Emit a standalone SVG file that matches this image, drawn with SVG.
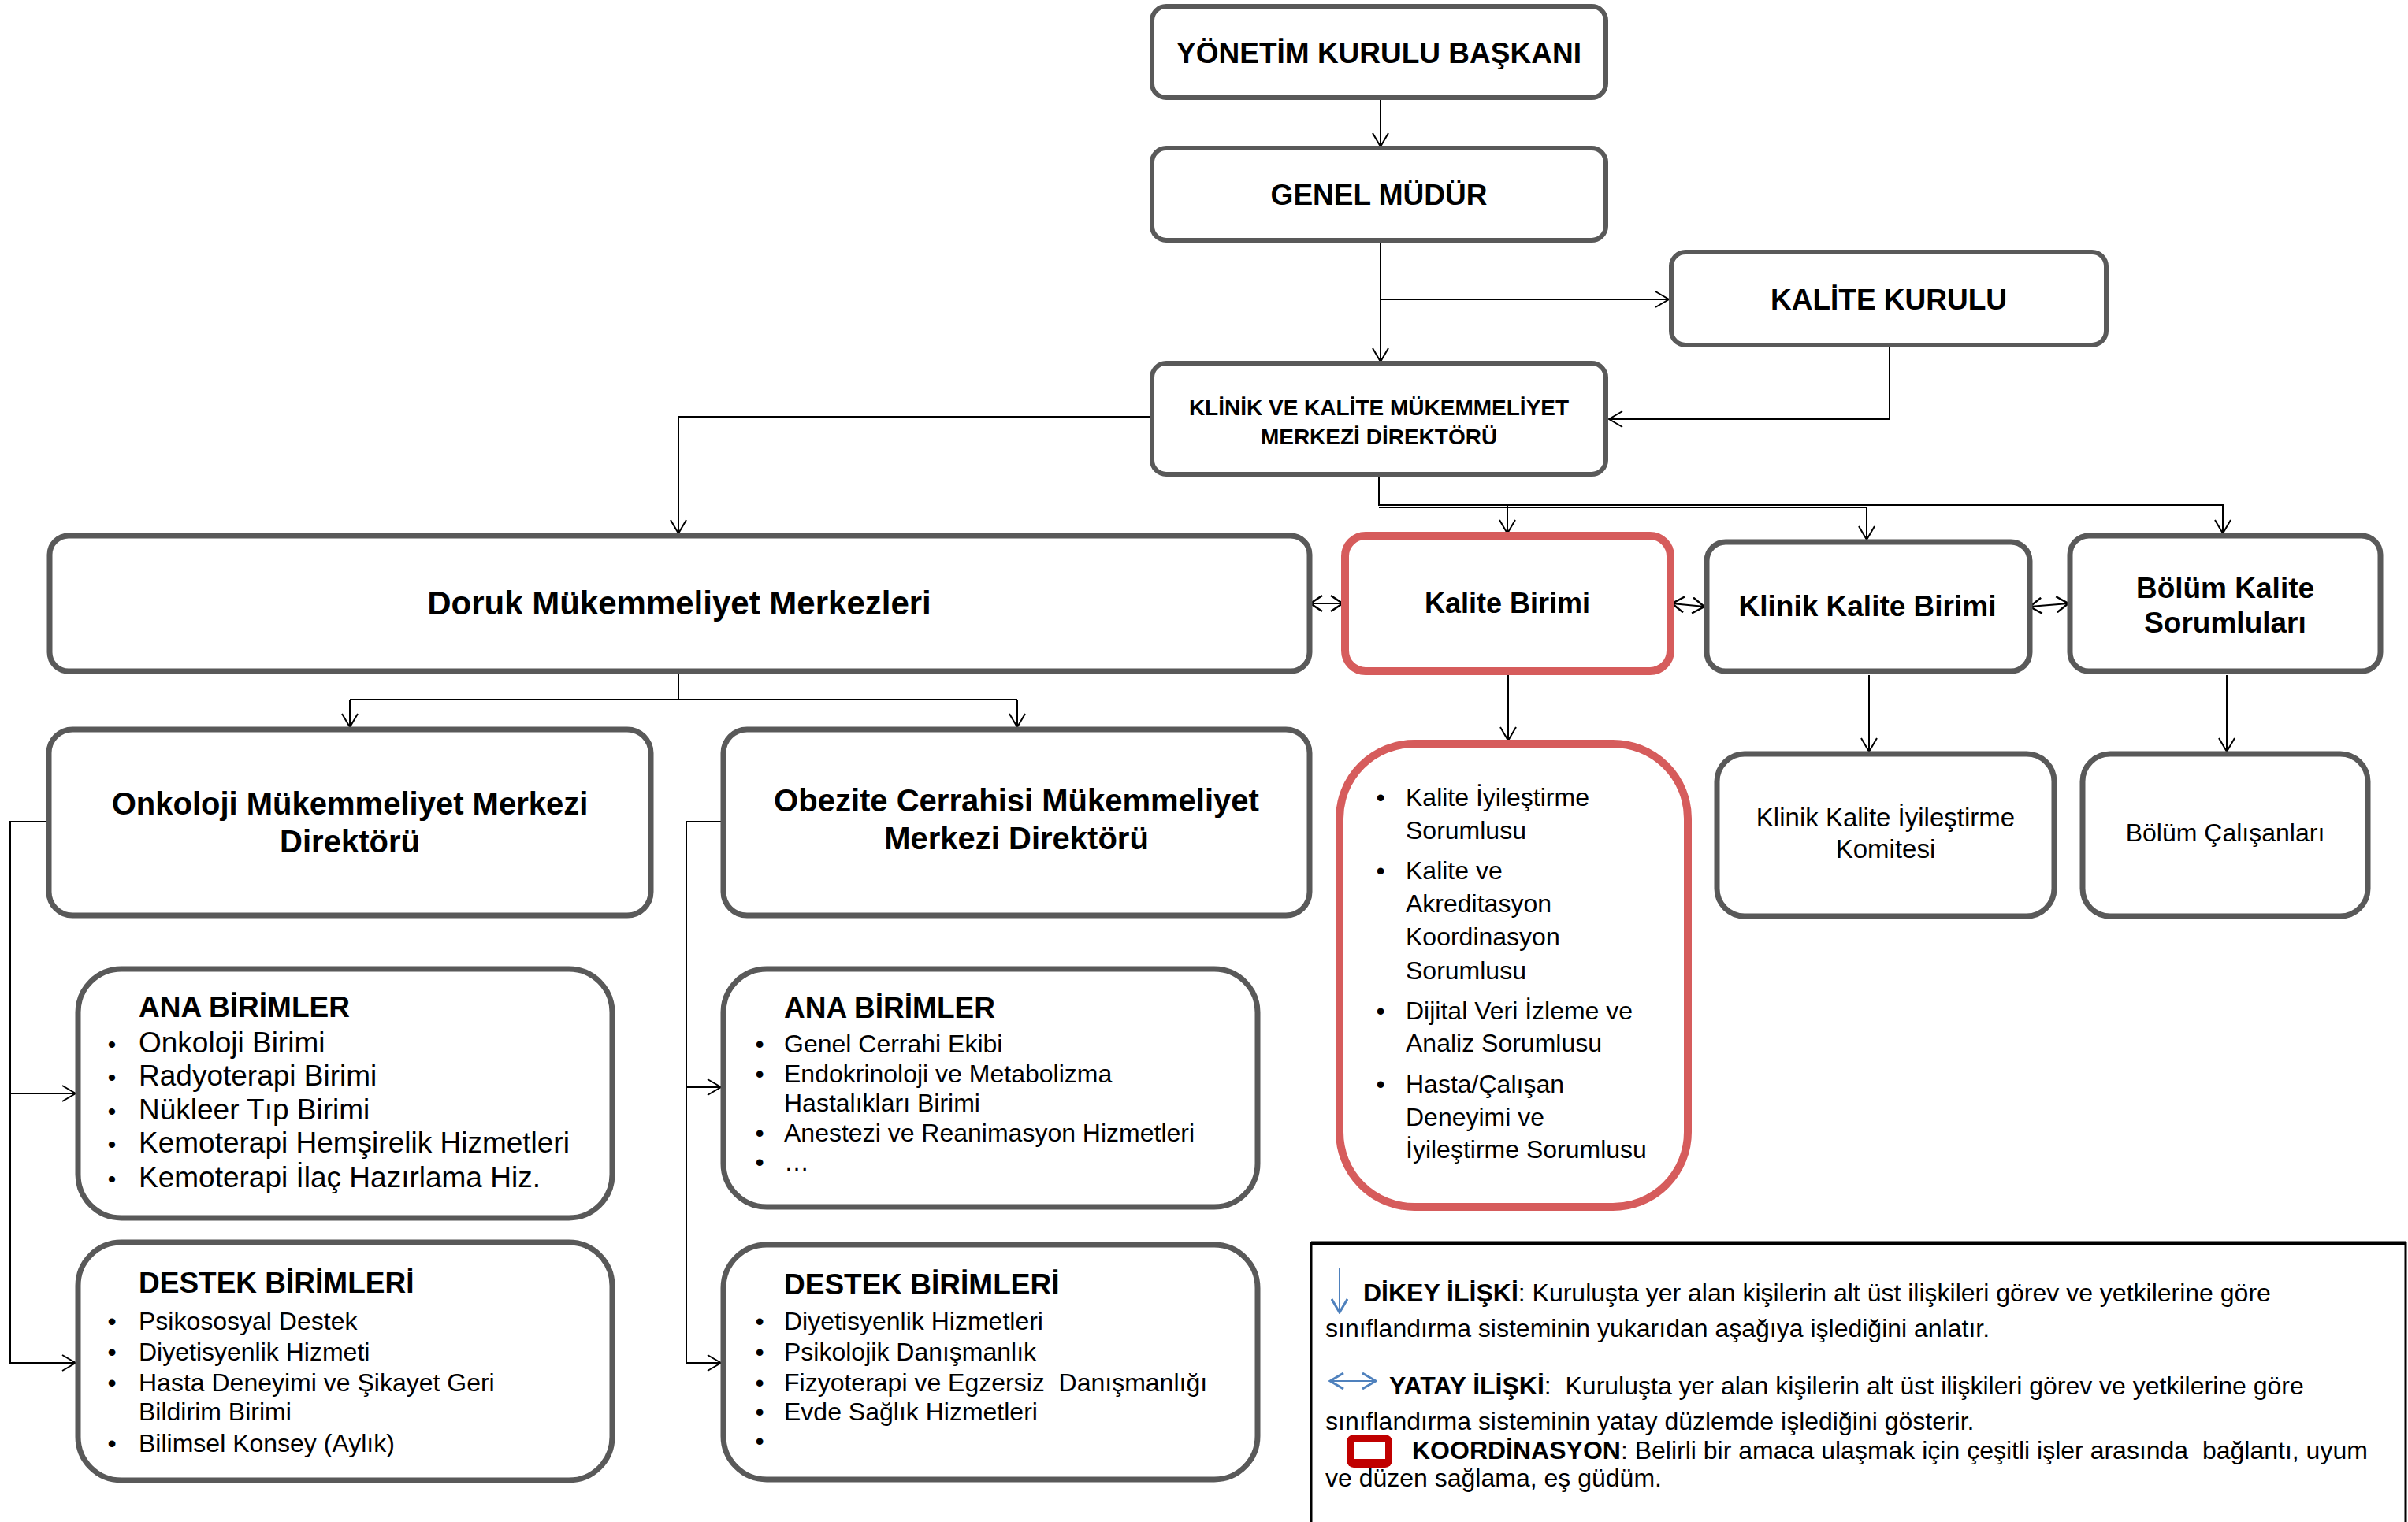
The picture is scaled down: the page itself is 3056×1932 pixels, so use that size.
<svg xmlns="http://www.w3.org/2000/svg" width="3056" height="1932" viewBox="0 0 3056 1932">
<style>
  text { font-family: "Liberation Sans", Arial, sans-serif; fill: #000; }
  .b { font-weight: bold; }
  .c { text-anchor: middle; }
  .box { fill: #fff; stroke: #595959; stroke-width: 7; }
  .top { fill: #fff; stroke: #595959; stroke-width: 6; }
  .red { fill: #fff; stroke: #d65c5c; stroke-width: 10; }
  .ln { fill: none; stroke: #000; stroke-width: 2; }
  .pre { white-space: pre; }
</style>
<defs>
  <marker id="arr" markerUnits="userSpaceOnUse" markerWidth="20" markerHeight="22" viewBox="0 0 20 22" refX="18" refY="11" orient="auto-start-reverse">
    <path d="M1,1 L18,11 L1,21" fill="none" stroke="#000" stroke-width="2"/>
  </marker>
  <marker id="dbl" markerUnits="userSpaceOnUse" markerWidth="18" markerHeight="22" viewBox="0 0 18 22" refX="16" refY="11" orient="auto-start-reverse">
    <path d="M1,1 L16,11 L1,21" fill="none" stroke="#000" stroke-width="2.5"/>
  </marker>
  <marker id="barr" markerUnits="userSpaceOnUse" markerWidth="20" markerHeight="22" viewBox="0 0 20 22" refX="18" refY="11" orient="auto-start-reverse">
    <path d="M1,1 L18,11 L1,21" fill="none" stroke="#4f81bd" stroke-width="3"/>
  </marker>
</defs>
<rect width="3056" height="1932" fill="#fff"/>

<g id="connectors">
  <path class="ln" d="M1752 126 V186" marker-end="url(#arr)"/>
  <path class="ln" d="M1752 306 V459" marker-end="url(#arr)"/>
  <path class="ln" d="M1752 380 H2118" marker-end="url(#arr)"/>
  <path class="ln" d="M2398 440 V532 H2042" marker-end="url(#arr)"/>
  <path class="ln" d="M1462 529 H861 V677" marker-end="url(#arr)"/>
  <path class="ln" d="M1750 603 V641 H2821 V677" marker-end="url(#arr)"/>
  <path class="ln" d="M1750 644 H2369 V685" marker-end="url(#arr)"/>
  <path class="ln" d="M1913 641 V677" marker-end="url(#arr)"/>
  <path class="ln" d="M861 855 V888"/>
  <path class="ln" d="M444 888 H1291"/>
  <path class="ln" d="M444 888 V923" marker-end="url(#arr)"/>
  <path class="ln" d="M1291 888 V923" marker-end="url(#arr)"/>
  <path class="ln" d="M59 1043 H13 V1730 H96" marker-end="url(#arr)"/>
  <path class="ln" d="M13 1388 H96" marker-end="url(#arr)"/>
  <path class="ln" d="M915 1043 H871 V1730 H915" marker-end="url(#arr)"/>
  <path class="ln" d="M871 1380 H915" marker-end="url(#arr)"/>
  <path class="ln" d="M1914 857 V940" marker-end="url(#arr)"/>
  <path class="ln" d="M2372 857 V954" marker-end="url(#arr)"/>
  <path class="ln" d="M2826 857 V954" marker-end="url(#arr)"/>
  <path class="ln" d="M1663 766 H1704" stroke-width="2.5" marker-start="url(#dbl)" marker-end="url(#dbl)"/>
  <path class="ln" d="M2122 766 L2163 770" stroke-width="2.5" marker-start="url(#dbl)" marker-end="url(#dbl)"/>
  <path class="ln" d="M2576 770 L2625 766" stroke-width="2.5" marker-start="url(#dbl)" marker-end="url(#dbl)"/>
</g>

<g id="n-yonetim">
  <rect class="top" x="1462" y="8" width="576" height="116" rx="18"/>
  <text class="b c" x="1750" y="80" font-size="37">YÖNETİM KURULU BAŞKANI</text>
</g>
<g id="n-genel">
  <rect class="top" x="1462" y="188" width="576" height="117" rx="18"/>
  <text class="b c" x="1750" y="260" font-size="37">GENEL MÜDÜR</text>
</g>
<g id="n-kalite-kurulu">
  <rect class="top" x="2121" y="320" width="552" height="118" rx="18"/>
  <text class="b c" x="2397" y="393" font-size="37">KALİTE KURULU</text>
</g>
<g id="n-klinik-direktor">
  <rect class="top" x="1462" y="461" width="576" height="141" rx="18"/>
  <text class="b c" x="1750" y="527" font-size="28">KLİNİK VE KALİTE MÜKEMMELİYET</text>
  <text class="b c" x="1750" y="564" font-size="28">MERKEZİ DİREKTÖRÜ</text>
</g>

<g id="n-doruk">
  <rect class="box" x="63" y="680" width="1599" height="172" rx="24"/>
  <text class="b c" x="862" y="780" font-size="42">Doruk Mükemmeliyet Merkezleri</text>
</g>
<g id="n-kalite-birimi">
  <rect class="red" x="1707" y="680" width="413" height="172" rx="26"/>
  <text class="b c" x="1913" y="778" font-size="36">Kalite Birimi</text>
</g>
<g id="n-klinik-kalite-birimi">
  <rect class="box" x="2166" y="688" width="410" height="164" rx="24"/>
  <text class="b c" x="2370" y="782" font-size="37">Klinik Kalite Birimi</text>
</g>
<g id="n-bolum-kalite">
  <rect class="box" x="2627" y="680" width="394" height="172" rx="24"/>
  <text class="b c" x="2824" y="759" font-size="37">Bölüm Kalite</text>
  <text class="b c" x="2824" y="803" font-size="37">Sorumluları</text>
</g>

<g id="n-onkoloji">
  <rect class="box" x="62" y="926" width="764" height="236" rx="30"/>
  <text class="b c" x="444" y="1034" font-size="40">Onkoloji Mükemmeliyet Merkezi</text>
  <text class="b c" x="444" y="1082" font-size="40">Direktörü</text>
</g>
<g id="n-obezite">
  <rect class="box" x="918" y="926" width="744" height="236" rx="30"/>
  <text class="b c" x="1290" y="1030" font-size="40">Obezite Cerrahisi Mükemmeliyet</text>
  <text class="b c" x="1290" y="1078" font-size="40">Merkezi Direktörü</text>
</g>

<g id="n-kalite-liste">
  <rect class="red" x="1700" y="944" width="442" height="588" rx="95"/>
  <g font-size="32">
    <text class="c" x="1752" y="1023">•</text>
    <text x="1784" y="1023">Kalite İyileştirme</text>
    <text x="1784" y="1065">Sorumlusu</text>
    <text class="c" x="1752" y="1116">•</text>
    <text x="1784" y="1116">Kalite ve</text>
    <text x="1784" y="1158">Akreditasyon</text>
    <text x="1784" y="1200">Koordinasyon</text>
    <text x="1784" y="1243">Sorumlusu</text>
    <text class="c" x="1752" y="1294">•</text>
    <text x="1784" y="1294">Dijital Veri İzleme ve</text>
    <text x="1784" y="1335">Analiz Sorumlusu</text>
    <text class="c" x="1752" y="1387">•</text>
    <text x="1784" y="1387">Hasta/Çalışan</text>
    <text x="1784" y="1429">Deneyimi ve</text>
    <text x="1784" y="1470">İyileştirme Sorumlusu</text>
  </g>
</g>
<g id="n-klinik-komite">
  <rect class="box" x="2179" y="957" width="428" height="206" rx="35"/>
  <text class="c" x="2393" y="1049" font-size="33">Klinik Kalite İyileştirme</text>
  <text class="c" x="2393" y="1089" font-size="33">Komitesi</text>
</g>
<g id="n-bolum-calisanlari">
  <rect class="box" x="2643" y="957" width="362" height="206" rx="35"/>
  <text class="c" x="2824" y="1068" font-size="32">Bölüm Çalışanları</text>
</g>

<g id="n-onk-ana">
  <rect class="box" x="99" y="1230" width="678" height="316" rx="55"/>
  <text class="b" x="176" y="1291" font-size="37">ANA BİRİMLER</text>
  <g font-size="37">
    <text class="c" x="142" y="1336" font-size="30">•</text><text x="176" y="1336">Onkoloji Birimi</text>
    <text class="c" x="142" y="1378" font-size="30">•</text><text x="176" y="1378">Radyoterapi Birimi</text>
    <text class="c" x="142" y="1421" font-size="30">•</text><text x="176" y="1421">Nükleer Tıp Birimi</text>
    <text class="c" x="142" y="1463" font-size="30">•</text><text x="176" y="1463">Kemoterapi Hemşirelik Hizmetleri</text>
    <text class="c" x="142" y="1507" font-size="30">•</text><text x="176" y="1507">Kemoterapi İlaç Hazırlama Hiz.</text>
  </g>
</g>
<g id="n-onk-destek">
  <rect class="box" x="99" y="1577" width="678" height="302" rx="55"/>
  <text class="b" x="176" y="1641" font-size="37">DESTEK BİRİMLERİ</text>
  <g font-size="32">
    <text class="c" x="142" y="1688">•</text><text x="176" y="1688">Psikososyal Destek</text>
    <text class="c" x="142" y="1727">•</text><text x="176" y="1727">Diyetisyenlik Hizmeti</text>
    <text class="c" x="142" y="1766">•</text><text x="176" y="1766">Hasta Deneyimi ve Şikayet Geri</text>
    <text x="176" y="1803">Bildirim Birimi</text>
    <text class="c" x="142" y="1843">•</text><text x="176" y="1843">Bilimsel Konsey (Aylık)</text>
  </g>
</g>

<g id="n-obe-ana">
  <rect class="box" x="918" y="1230" width="678" height="302" rx="55"/>
  <text class="b" x="995" y="1292" font-size="37">ANA BİRİMLER</text>
  <g font-size="32">
    <text class="c" x="964" y="1336">•</text><text x="995" y="1336">Genel Cerrahi Ekibi</text>
    <text class="c" x="964" y="1374">•</text><text x="995" y="1374">Endokrinoloji ve Metabolizma</text>
    <text x="995" y="1411">Hastalıkları Birimi</text>
    <text class="c" x="964" y="1449">•</text><text x="995" y="1449">Anestezi ve Reanimasyon Hizmetleri</text>
    <text class="c" x="964" y="1486">•</text><text x="995" y="1486">…</text>
  </g>
</g>
<g id="n-obe-destek">
  <rect class="box" x="918" y="1580" width="678" height="298" rx="55"/>
  <text class="b" x="995" y="1643" font-size="37">DESTEK BİRİMLERİ</text>
  <g font-size="32">
    <text class="c" x="964" y="1688">•</text><text x="995" y="1688">Diyetisyenlik Hizmetleri</text>
    <text class="c" x="964" y="1727">•</text><text x="995" y="1727">Psikolojik Danışmanlık</text>
    <text class="c" x="964" y="1766">•</text><text class="pre" x="995" y="1766" xml:space="preserve">Fizyoterapi ve Egzersiz  Danışmanlığı</text>
    <text class="c" x="964" y="1803">•</text><text x="995" y="1803">Evde Sağlık Hizmetleri</text>
    <text class="c" x="964" y="1840">•</text>
  </g>
</g>

<g id="legend">
  <rect x="1664" y="1578" width="1389" height="370" fill="#fff" stroke="#000" stroke-width="3"/>
  <line x1="1664" y1="1578" x2="3053" y2="1578" stroke="#000" stroke-width="5"/>
  <line x1="1700" y1="1609" x2="1700" y2="1666" stroke="#4f81bd" stroke-width="2" marker-end="url(#barr)"/>
  <line x1="1688" y1="1753" x2="1746" y2="1753" stroke="#4f81bd" stroke-width="2" marker-start="url(#barr)" marker-end="url(#barr)"/>
  <rect x="1709" y="1821" width="58" height="42" rx="9" fill="#c00000"/>
  <rect x="1718" y="1831" width="40" height="21" fill="#fff"/>
  <g font-size="32">
    <text x="1730" y="1652"><tspan class="b">DİKEY İLİŞKİ</tspan>: Kuruluşta yer alan kişilerin alt üst ilişkileri görev ve yetkilerine göre</text>
    <text x="1682" y="1697">sınıflandırma sisteminin yukarıdan aşağıya işlediğini anlatır.</text>
    <text class="pre" x="1763" y="1770" xml:space="preserve"><tspan class="b">YATAY İLİŞKİ</tspan>:  Kuruluşta yer alan kişilerin alt üst ilişkileri görev ve yetkilerine göre</text>
    <text x="1682" y="1815">sınıflandırma sisteminin yatay düzlemde işlediğini gösterir.</text>
    <text class="pre" x="1792" y="1852" xml:space="preserve"><tspan class="b">KOORDİNASYON</tspan>: Belirli bir amaca ulaşmak için çeşitli işler arasında  bağlantı, uyum</text>
    <text x="1682" y="1887">ve düzen sağlama, eş güdüm.</text>
  </g>
</g>
</svg>
